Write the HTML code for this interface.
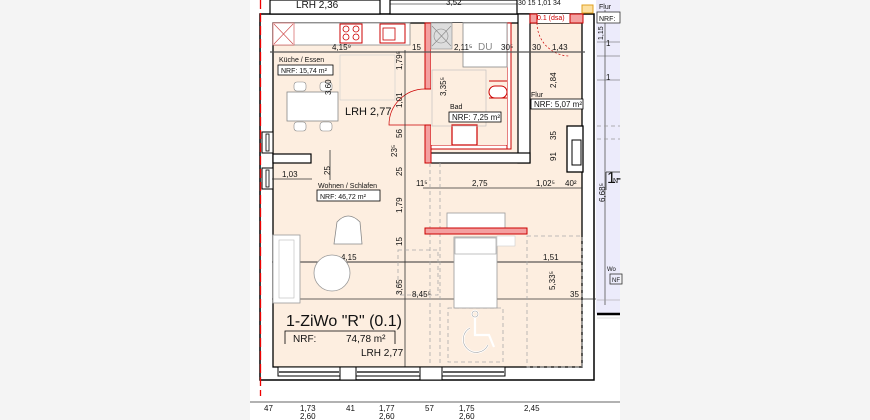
<!DOCTYPE html>
<html><head><meta charset="utf-8"><style>
html,body{margin:0;padding:0;background:#f4f4f4}
svg{display:block}
text{font-family:"Liberation Sans",sans-serif;fill:#111}
</style></head><body>
<svg width="870" height="420" viewBox="0 0 870 420" xmlns="http://www.w3.org/2000/svg">
<rect x="0" y="0" width="870" height="420" fill="#f4f4f4"/>
<rect x="250" y="0" width="370" height="420" fill="#fff"/>
<rect x="596" y="0" width="24" height="314" fill="#ecebfb"/>
<line x1="597" y1="314" x2="620" y2="314" stroke="#000" stroke-width="2.5"/>
<line x1="605" y1="10" x2="605" y2="305" stroke="#555" stroke-width="0.8"/>
<line x1="597" y1="42" x2="620" y2="42" stroke="#555" stroke-width="0.6"/>
<line x1="597" y1="56" x2="620" y2="56" stroke="#555" stroke-width="0.6"/>
<line x1="597" y1="80" x2="620" y2="80" stroke="#555" stroke-width="0.6"/>
<line x1="597" y1="126" x2="620" y2="126" stroke="#999" stroke-width="0.8" stroke-dasharray="4,3"/>
<line x1="597" y1="139" x2="620" y2="139" stroke="#999" stroke-width="0.8" stroke-dasharray="4,3"/>
<line x1="597" y1="300" x2="620" y2="300" stroke="#999" stroke-width="0.6"/>
<line x1="597" y1="318" x2="620" y2="318" stroke="#bbb" stroke-width="0.6"/>
<text x="607" y="183" font-size="16">1-</text>
<line x1="606" y1="172" x2="620" y2="172" stroke="#333" stroke-width="0.8"/>
<line x1="606" y1="172" x2="606" y2="190" stroke="#333" stroke-width="0.8"/>
<text x="613" y="183" font-size="7">N</text>
<text x="607" y="271" font-size="6">Wo</text>
<rect x="610" y="274" width="12" height="10" fill="none" stroke="#333" stroke-width="0.8"/>
<text x="612" y="282" font-size="6">NF</text>
<text x="599" y="9" font-size="7">Flur</text>
<rect x="597" y="12" width="23" height="11" fill="#fff" stroke="#333" stroke-width="0.8"/>
<text x="599" y="21" font-size="7">NRF:</text>
<text x="605" y="202" font-size="8" transform="rotate(-90 605 202)">6,68⁵</text>
<text x="603" y="40" font-size="7" transform="rotate(-90 603 40)">1,15</text>
<text x="606" y="46" font-size="8">1</text>
<text x="606" y="80" font-size="8">1</text>

<rect x="260" y="14" width="334" height="366" fill="#fff" stroke="#000" stroke-width="1.5"/>
<rect x="273" y="23" width="309" height="344" fill="#fdeee0" stroke="#000" stroke-width="1.3"/>
<rect x="567" y="126" width="16" height="46" fill="#fff" stroke="#000" stroke-width="1.3"/>
<rect x="572" y="140" width="9" height="25" fill="#fff" stroke="#000" stroke-width="1"/>
<rect x="270" y="0" width="110" height="14" fill="#fff" stroke="#000" stroke-width="1.2"/>
<text x="296" y="8" font-size="10">LRH 2,36</text>
<rect x="390" y="0" width="127" height="14" fill="#fff" stroke="#000" stroke-width="1.2"/>
<line x1="390" y1="4" x2="517" y2="4" stroke="#000" stroke-width="0.6"/>
<text x="446" y="5" font-size="8">3,52</text>
<text x="518" y="5" font-size="7">30 15  1,01  34</text>
<rect x="582" y="5" width="11" height="8" fill="#fde0a0" stroke="#e0a020" stroke-width="1"/>
<rect x="518" y="14" width="12" height="149" fill="#fff" stroke="#000" stroke-width="1.2"/>
<rect x="430" y="153" width="100" height="10" fill="#fff" stroke="#000" stroke-width="1.2"/>
<rect x="530" y="14" width="53" height="9" fill="#fff"/>
<rect x="530" y="14" width="7" height="9" fill="#f4a0a0" stroke="#c00" stroke-width="1"/>
<rect x="570" y="14" width="13" height="9" fill="#f4a0a0" stroke="#c00" stroke-width="1"/>
<text x="537" y="20" font-size="7" style="fill:#c00">0.1 (dsa)</text>
<path d="M537 23 A33 33 0 0 0 570 56" fill="none" stroke="#c00" stroke-width="0.7" stroke-dasharray="2,2"/>
<rect x="425" y="23" width="6" height="66" fill="#f4a0a0" stroke="#c00" stroke-width="1"/>
<rect x="425" y="125" width="6" height="38" fill="#f4a0a0" stroke="#c00" stroke-width="1"/>
<rect x="431" y="145" width="80" height="4" fill="#fff" stroke="#c00" stroke-width="1"/>
<rect x="507" y="23" width="4" height="126" fill="#fff" stroke="#c00" stroke-width="1"/>
<rect x="431" y="23" width="76" height="122" fill="#fdeee0"/>
<rect x="431" y="23" width="21" height="26" fill="#ddd" stroke="#888" stroke-width="0.6"/>
<line x1="432" y1="26" x2="451" y2="46" stroke="#888" stroke-width="0.6"/><line x1="451" y1="26" x2="432" y2="46" stroke="#888" stroke-width="0.6"/>
<circle cx="441" cy="36" r="7" fill="none" stroke="#888" stroke-width="0.6"/>
<rect x="463" y="23" width="44" height="44" fill="#fff" stroke="#888" stroke-width="0.8"/>
<text x="478" y="50" font-size="10" style="fill:#888">DU</text>
<path d="M489 81 H507 M489 98 H507" stroke="#c00" stroke-width="1"/>
<rect x="489" y="86" width="18" height="12" rx="6" fill="#fff" stroke="#c00" stroke-width="1"/>
<rect x="452" y="125" width="25" height="20" fill="#fff" stroke="#c00" stroke-width="1.2"/>
<rect x="432" y="70" width="54" height="56" fill="none" stroke="#bbb" stroke-width="0.6"/>
<path d="M425 89 A36 36 0 0 0 389 125 H425" fill="none" stroke="#c00" stroke-width="0.7"/>
<text x="450" y="109" font-size="7">Bad</text>
<rect x="449" y="112" width="52" height="10" fill="#fff" stroke="#000" stroke-width="0.8"/>
<text x="452" y="120" font-size="8">NRF: 7,25 m²</text>
<rect x="273" y="23" width="137" height="22" fill="#fff" stroke="#888" stroke-width="0.8"/>
<rect x="273" y="23" width="21" height="22" fill="#fff" stroke="#c44" stroke-width="0.6"/>
<line x1="274" y1="24" x2="293" y2="44" stroke="#c44" stroke-width="0.6"/><line x1="293" y1="24" x2="274" y2="44" stroke="#c44" stroke-width="0.6"/>
<rect x="340" y="24" width="22" height="19" fill="#fff" stroke="#c00" stroke-width="1"/>
<circle cx="346" cy="29" r="3" fill="none" stroke="#c00" stroke-width="0.8"/><circle cx="356" cy="29" r="3" fill="none" stroke="#c00" stroke-width="0.8"/>
<circle cx="346" cy="37" r="3" fill="none" stroke="#c00" stroke-width="0.8"/><circle cx="356" cy="37" r="3" fill="none" stroke="#c00" stroke-width="0.8"/>
<rect x="380" y="24" width="25" height="19" fill="#fff" stroke="#c00" stroke-width="1"/>
<rect x="383" y="28" width="12" height="12" fill="none" stroke="#c00" stroke-width="0.8"/>
<rect x="340" y="55" width="55" height="45" fill="none" stroke="#ccc" stroke-width="0.6"/>
<rect x="287" y="92" width="51" height="29" fill="#fff" stroke="#888" stroke-width="0.8"/>
<rect x="294" y="82" width="12" height="9" rx="3" fill="#fff" stroke="#888" stroke-width="0.6"/>
<rect x="320" y="82" width="12" height="9" rx="3" fill="#fff" stroke="#888" stroke-width="0.6"/>
<rect x="294" y="122" width="12" height="9" rx="3" fill="#fff" stroke="#888" stroke-width="0.6"/>
<rect x="320" y="122" width="12" height="9" rx="3" fill="#fff" stroke="#888" stroke-width="0.6"/>
<text x="279" y="62" font-size="7">Küche / Essen</text>
<rect x="278" y="65" width="55" height="10" fill="#fff" stroke="#000" stroke-width="0.8"/>
<text x="281" y="73" font-size="7">NRF: 15,74 m²</text>
<text x="345" y="115" font-size="11">LRH 2,77</text>
<rect x="273" y="154" width="38" height="9" fill="#fff" stroke="#000" stroke-width="1.2"/>
<rect x="262" y="132" width="11" height="21" fill="#fff" stroke="#000" stroke-width="1"/>
<rect x="266" y="134" width="3" height="17" fill="#fff" stroke="#000" stroke-width="0.8"/>
<rect x="262" y="168" width="11" height="21" fill="#fff" stroke="#000" stroke-width="1"/>
<rect x="266" y="170" width="3" height="17" fill="#fff" stroke="#000" stroke-width="0.8"/>
<line x1="260.5" y1="0" x2="260.5" y2="396" stroke="#e00" stroke-width="1.3" stroke-dasharray="9,4"/>
<text x="531" y="97" font-size="7">Flur</text>
<rect x="531" y="99" width="52" height="10" fill="#fff" stroke="#000" stroke-width="0.8"/>
<text x="534" y="107" font-size="8">NRF: 5,07 m²</text>
<g stroke="#333" stroke-width="0.8">
<line x1="270" y1="52" x2="585" y2="52" stroke-width="1.3" stroke="#555"/>
<line x1="423" y1="188" x2="582" y2="188"/>
<line x1="272" y1="262" x2="582" y2="262" stroke-width="1"/>
<line x1="272" y1="299" x2="596" y2="299"/>
<line x1="405" y1="50" x2="405" y2="367"/>
<line x1="272" y1="179" x2="312" y2="179"/>
<line x1="330" y1="150" x2="330" y2="180"/>
<line x1="250" y1="402" x2="620" y2="402"/>
</g>
<g stroke="#aaa" stroke-width="0.8" stroke-dasharray="4,3" fill="none">
<line x1="430" y1="163" x2="430" y2="367"/>
<line x1="440" y1="163" x2="440" y2="367"/>
<rect x="527" y="236" width="55" height="131"/>
<rect x="448" y="308" width="55" height="54"/>
<rect x="398" y="250" width="40" height="45"/>
</g>
<g font-size="8">
<text x="332" y="50">4,15⁹</text><text x="412" y="50">15</text><text x="454" y="50">2,11⁵</text>
<text x="501" y="50">30⁵</text><text x="532" y="50">30</text><text x="552" y="50">1,43</text>
<text x="282" y="177">1,03</text>
<text x="472" y="186">2,75</text><text x="536" y="186">1,02⁵</text><text x="565" y="186">40²</text><text x="416" y="186">11⁵</text>
<text x="341" y="260">4,15</text><text x="467" y="260">2,80</text><text x="543" y="260">1,51</text>
<text x="412" y="297">8,45⁵</text><text x="570" y="297">35</text>
</g>
<g font-size="8">
<text x="402" y="70" transform="rotate(-90 402 70)">1,79⁵</text>
<text x="402" y="108" transform="rotate(-90 402 108)">1,01</text>
<text x="402" y="138" transform="rotate(-90 402 138)">56</text>
<text x="397" y="157" transform="rotate(-90 397 157)">23⁵</text>
<text x="402" y="176" transform="rotate(-90 402 176)">25</text>
<text x="402" y="213" transform="rotate(-90 402 213)">1,79</text>
<text x="402" y="246" transform="rotate(-90 402 246)">15</text>
<text x="402" y="295" transform="rotate(-90 402 295)">3,65</text>
<text x="331" y="95" transform="rotate(-90 331 95)">3,60</text>
<text x="330" y="175" transform="rotate(-90 330 175)">25</text>
<text x="446" y="96" transform="rotate(-90 446 96)">3,35⁵</text>
<text x="556" y="88" transform="rotate(-90 556 88)">2,84</text>
<text x="556" y="140" transform="rotate(-90 556 140)">35</text>
<text x="556" y="161" transform="rotate(-90 556 161)">91</text>
<text x="555" y="290" transform="rotate(-90 555 290)">5,33⁵</text>
</g>
<text x="318" y="188" font-size="7">Wohnen / Schlafen</text>
<rect x="317" y="190" width="63" height="11" fill="#fff" stroke="#000" stroke-width="0.8"/>
<text x="320" y="199" font-size="7">NRF:   46,72 m²</text>
<rect x="273" y="235" width="27" height="68" fill="#fff" stroke="#999" stroke-width="0.8"/>
<rect x="279" y="240" width="15" height="58" fill="none" stroke="#bbb" stroke-width="0.6"/>
<path d="M334 244 L337 222 Q348 210 360 222 L362 244 Z" fill="#fff" stroke="#888" stroke-width="0.8"/>
<circle cx="332" cy="273" r="18" fill="#fff" stroke="#999" stroke-width="0.8"/>
<rect x="447" y="213" width="58" height="15" fill="#fff" stroke="#999" stroke-width="0.8"/>
<rect x="454" y="237" width="43" height="71" fill="#fff" stroke="#999" stroke-width="0.8"/>
<rect x="455" y="238" width="41" height="16" fill="#fff" stroke="#999" stroke-width="0.6"/>
<rect x="497" y="236" width="18" height="10" fill="#fff" stroke="#ccc" stroke-width="0.6"/>
<rect x="425" y="228" width="102" height="6" fill="#f4a0a0" stroke="#c00" stroke-width="1"/>
<g fill="none" stroke="#fff" stroke-width="2.2">
<circle cx="475" cy="314" r="3"/>
<path d="M475 318 V335 H489 L494 347"/>
<path d="M470 328 A13 13 0 1 0 488 345"/>
</g>
<g fill="none" stroke="#aaa" stroke-width="0.6">
<circle cx="475" cy="314" r="3"/>
<path d="M470 328 A13 13 0 1 0 488 345"/>
</g>
<text x="286" y="326" font-size="16">1-ZiWo "R" (0.1)</text>
<path d="M285 344 V331 H395 V344" fill="none" stroke="#000" stroke-width="0.8"/>
<text x="293" y="342" font-size="10">NRF:</text><text x="346" y="342" font-size="10">74,78 m²</text>
<text x="361" y="356" font-size="10">LRH 2,77</text>
<g fill="#fff" stroke="#000" stroke-width="1">
<rect x="278" y="367" width="62" height="9"/>
<rect x="356" y="367" width="64" height="9"/>
<rect x="442" y="367" width="63" height="9"/>
<rect x="340" y="367" width="16" height="13"/>
<rect x="420" y="367" width="22" height="13"/>
</g>
<g stroke="#000" stroke-width="1.3"><line x1="279" y1="372" x2="339" y2="372"/><line x1="357" y1="372" x2="419" y2="372"/><line x1="443" y1="372" x2="504" y2="372"/></g>
<g font-size="8">
<text x="264" y="411">47</text><text x="300" y="411">1,73</text><text x="346" y="411">41</text><text x="379" y="411">1,77</text><text x="425" y="411">57</text><text x="459" y="411">1,75</text><text x="524" y="411">2,45</text>
<text x="300" y="419">2,60</text><text x="379" y="419">2,60</text><text x="459" y="419">2,60</text>
</g>
</svg>
</body></html>
